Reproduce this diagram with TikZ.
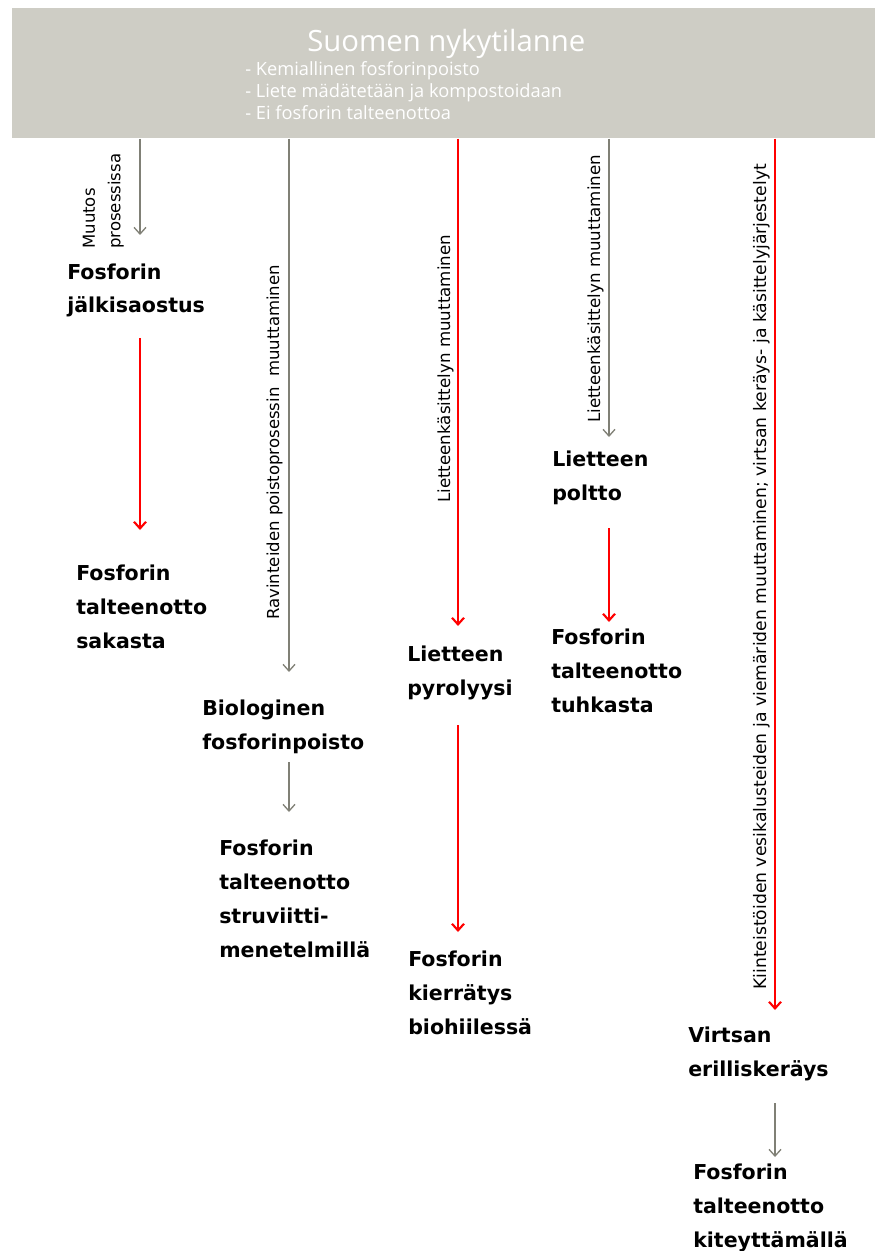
\documentclass[tikz,border=0pt]{standalone}
\usepackage{fontspec}
\setmainfont{DejaVu Sans}
\newfontfamily\hdrfont{Open Sans}
\usetikzlibrary{arrows.meta, positioning}

\definecolor{hdrgray}{RGB}{206,205,197}
\definecolor{arrgray}{RGB}{128,128,118}
\definecolor{arrred}{RGB}{255,0,0}

\begin{document}
\begin{tikzpicture}[
    x=0.75pt, y=-0.75pt, % pixel units, y downwards
    >={Straight Barb[length=5pt,width=9pt]}, % open chevron tips
    lbl/.style={anchor=base west, align=left, inner sep=0pt,
                font=\fontsize{15.4}{25.3}\selectfont\bfseries}, % anchored at last line
    vlbl/.style={rotate=90, anchor=base west, inner sep=0pt,
                 font=\fontsize{12.5}{14}\selectfont},
    redarr/.style={->, draw=arrred, line width=1.6pt},
    grayarr/.style={->, draw=arrgray, line width=1pt}
]
\useasboundingbox (0,0) rectangle (875,1251);

% Header box
\node (hdr) [fill=hdrgray, anchor=north west, inner sep=0pt,
    minimum width=647.25pt, minimum height=97.5pt] at (12,8) {};
\node (ttl) [anchor=base west, inner sep=0pt, text=white,
    font=\hdrfont\fontsize{22}{26}\selectfont] at (307,52) {Suomen nykytilanne};
\node (nyt) [anchor=base west, inner sep=0pt, text=white, align=left,
    font=\hdrfont\fontsize{13.7}{16.5}\selectfont] at (245,120)
    {- Kemiallinen fosforinpoisto\\- Liete mädätetään ja kompostoidaan\\- Ei fosforin talteenottoa};

% Boxes (text only)
\node (jalki) [lbl] at (67,313) {Fosforin\\jälkisaostus};
\node (saka) [lbl] at (76,648) {Fosforin\\talteenotto\\sakasta};
\node (bio) [lbl] at (202,749) {Biologinen\\fosforinpoisto};
\node (struv) [lbl] at (219,957) {Fosforin\\talteenotto\\struviitti-\\menetelmillä};
\node (pyro) [lbl] at (407,695) {Lietteen\\pyrolyysi};
\node (hiili) [lbl] at (408,1034) {Fosforin\\kierrätys\\biohiilessä};
\node (poltto) [lbl] at (552,500) {Lietteen\\poltto};
\node (tuhka) [lbl] at (551,712) {Fosforin\\talteenotto\\tuhkasta};
\node (virtsa) [lbl] at (688,1076) {Virtsan\\erilliskeräys};
\node (kite) [lbl] at (693,1247) {Fosforin\\talteenotto\\kiteyttämällä};

% Arrow end points
\coordinate (e1) at (140,235);
\coordinate (s2) at (140,338);
\coordinate (e2) at (140,530);
\coordinate (e3) at (289,672);
\coordinate (s4) at (289,762);
\coordinate (e4) at (289,812);
\coordinate (e5) at (458,626);
\coordinate (s6) at (458,725);
\coordinate (e6) at (458,932);
\coordinate (e7) at (609,437);
\coordinate (s8) at (609,528);
\coordinate (e8) at (609,622);
\coordinate (e9) at (775,1010);
\coordinate (s10) at (775,1103);
\coordinate (e10) at (775,1157);

% Arrows
\draw[grayarr] (hdr.south -| e1) -- (e1);
\draw[redarr] (s2) -- (e2);
\draw[grayarr] (hdr.south -| e3) -- (e3);
\draw[grayarr] (s4) -- (e4);
\draw[redarr] (hdr.south -| e5) -- (e5);
\draw[redarr] (s6) -- (e6);
\draw[grayarr] (hdr.south -| e7) -- (e7);
\draw[redarr] (s8) -- (e8);
\draw[redarr] (hdr.south -| e9) -- (e9);
\draw[grayarr] (s10) -- (e10);

% Arrow labels
\node (muutos) [rotate=90, anchor=south west, align=left, inner sep=0pt,
    font=\fontsize{12.4}{19}\selectfont] at (124,249) {Muutos\\prosessissa};
\node (ravi) [vlbl, font=\fontsize{12.4}{14}\selectfont] at (279,620)
    {Ravinteiden poistoprosessin\ \ muuttaminen};
\node (liet1) [vlbl] at (450,503) {Lietteenkäsittelyn muuttaminen};
\node (liet2) [vlbl] at (600,423) {Lietteenkäsittelyn muuttaminen};
\node (kiint) [vlbl, font=\fontsize{12.9}{14}\selectfont] at (766,990)
    {Kiinteistöiden vesikalusteiden ja viemäriden muuttaminen; virtsan keräys- ja käsittelyjärjestelyt};
\end{tikzpicture}
\end{document}
